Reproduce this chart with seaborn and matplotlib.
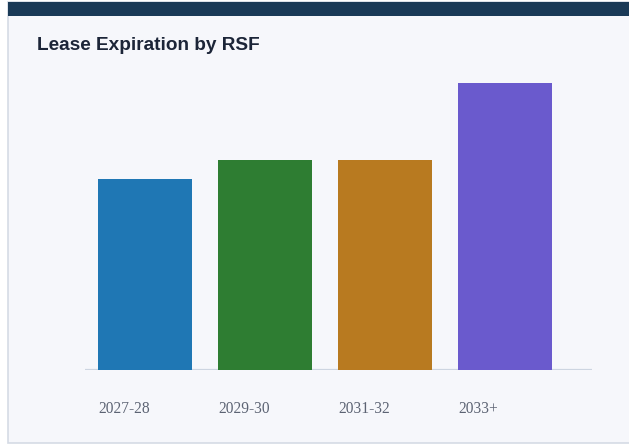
import matplotlib
matplotlib.use("Agg")
import matplotlib.pyplot as plt
from matplotlib.patches import Rectangle
import seaborn as sns

# lease expiration data (RSF, thousands)
periods = ["2027-28", "2029-30", "2031-32", "2033+"]
rsf = [100, 110, 110, 150]
bar_colors = ["#1f77b4", "#2e7d32", "#b87a20", "#6a5acd"]

W, H = 629, 445
DPI = 100
BG = "#f6f7fb"
NAVY = "#1a3a57"
BORDER = "#d5dbe5"

sns.set_theme(style="white")
plt.rcParams["font.family"] = ["Liberation Sans", "DejaVu Sans"]

fig = plt.figure(figsize=(W / DPI, H / DPI), dpi=DPI, facecolor="white")


def fx(x):
    return x / W


def fy(y):
    return 1 - y / H


# card background, border and top band
fig.patches.append(Rectangle((fx(8), fy(443)), fx(W + 5) - fx(8), fy(2) - fy(443),
                             transform=fig.transFigure, facecolor=BG,
                             edgecolor=BORDER, lw=1.2, zorder=-2))
fig.patches.append(Rectangle((fx(8), fy(16)), fx(W + 5) - fx(8), fy(2) - fy(16),
                             transform=fig.transFigure, facecolor=NAVY,
                             edgecolor="none", zorder=-1))

fig.text(fx(37), fy(50), "Lease Expiration by RSF", fontsize=13.7, fontweight="bold",
         color="#1c2538", va="baseline", ha="left")

ax = fig.add_axes([fx(85), fy(370), fx(592) - fx(85), fy(70) - fy(370)])
ax.set_facecolor("none")

bar_width = 0.783
sns.barplot(x=periods, y=rsf, hue=periods, palette=bar_colors, legend=False,
            width=bar_width, saturation=1, linewidth=0, ax=ax)

ax.set_xlim(-0.5, 3.725)
ax.set_ylim(0, 157)
ax.axhline(0, color="#cdd5e1", lw=1.6, zorder=0.5)

for s in ax.spines.values():
    s.set_visible(False)

ax.set_yticks([])
ax.set_xticks([i - bar_width / 2 for i in range(len(periods))])
ax.set_xticklabels(periods, family=["Liberation Serif", "DejaVu Serif"],
                   fontsize=11.2, color="#5c6373")
for lbl in ax.get_xticklabels():
    lbl.set_ha("left")
ax.tick_params(axis="x", length=0, pad=22)
ax.set_xlabel("")
ax.set_ylabel("")

fig.savefig("out.png", dpi=DPI, facecolor="white")
